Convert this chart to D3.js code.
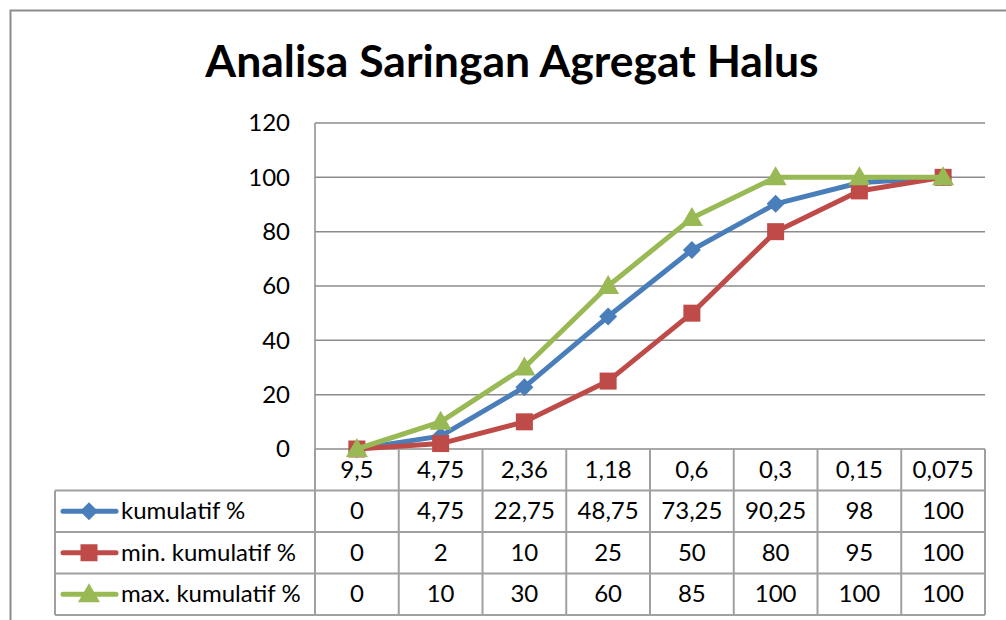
<!DOCTYPE html>
<html>
<head>
<meta charset="utf-8">
<script src="https://cdn.jsdelivr.net/npm/d3@7"></script>
<style>
  body { margin: 0; background: #fff; }
  text { font-family: Lato, "Open Sans", sans-serif; fill: #000; }
</style>
</head>
<body>
<div id="chart"></div>
<script>
// Data
var sizes = ["9,5", "4,75", "2,36", "1,18", "0,6", "0,3", "0,15", "0,075"];
var kumulatif = [0, 4.75, 22.75, 48.75, 73.25, 90.25, 98, 100];
var minKumulatif = [0, 2, 10, 25, 50, 80, 95, 100];
var maxKumulatif = [0, 10, 30, 60, 85, 100, 100, 100];
var seriesNames = ["kumulatif %", "min. kumulatif %", "max. kumulatif %"];
var yTicks = [0, 20, 40, 60, 80, 100, 120];

var svgWidth = 1006;
var svgHeight = 620;

// plot area
var plot = { left: 315, right: 985, top: 123, bottom: 449 };
var rowH = 41.5;
var legendLeft = 55;
var fontSize = "24px";

var colors = ["#4A7EBB", "#BE4B48", "#98B954"];
var gridColor = "#8c8c8c";
var tableColor = "#a0a0a0";

var series = [kumulatif, minKumulatif, maxKumulatif].map(function(vals, i) {
  return { name: seriesNames[i], color: colors[i], values: vals };
});

var svg = d3.select("#chart").append("svg")
  .attr("width", svgWidth)
  .attr("height", svgHeight);

// outer chart border
svg.append("rect")
  .attr("x", 10.5).attr("y", 10.5)
  .attr("width", svgWidth).attr("height", svgHeight)
  .attr("fill", "none")
  .attr("stroke", "#8c8c8c")
  .attr("stroke-width", 2);

// title
svg.append("text")
  .attr("x", 512).attr("y", 77)
  .attr("text-anchor", "middle")
  .style("font-size", "44.5px")
  .style("font-weight", "bold")
  .text("Analisa Saringan Agregat Halus");

var x = d3.scaleBand().domain(sizes).range([plot.left, plot.right]);
var y = d3.scaleLinear().domain([0, 120]).range([plot.bottom, plot.top]);

// gridlines
svg.append("g")
  .selectAll("line")
  .data(yTicks)
  .enter().append("line")
  .attr("x1", plot.left).attr("x2", plot.right)
  .attr("y1", d => y(d)).attr("y2", d => y(d))
  .attr("stroke", gridColor)
  .attr("stroke-width", 1.5);

// y axis labels
var yAxis = d3.axisLeft(y).tickValues(yTicks).tickSize(0).tickPadding(25);
var yg = svg.append("g")
  .attr("transform", `translate(${plot.left}, 0)`)
  .call(yAxis);
yg.select(".domain").remove();
yg.selectAll("text")
  .style("font-family", "Lato, 'Open Sans', sans-serif")
  .style("font-size", fontSize)
  .attr("fill", "#000");

// data table
var fmt = d3.formatLocale({ decimal: ",", thousands: ".", grouping: [3], currency: ["", ""] });
var num = function(v) { return fmt.format(",")(v); };

var tableBottom = plot.bottom + rowH * 4;
var table = svg.append("g");

// horizontal lines of table
[1, 2, 3, 4].forEach(function(r) {
  var yy = plot.bottom + r * rowH;
  table.append("line")
    .attr("x1", legendLeft).attr("x2", plot.right)
    .attr("y1", yy).attr("y2", yy)
    .attr("stroke", tableColor).attr("stroke-width", 2);
});

// vertical lines
var bounds = sizes.map(s => x(s)).concat([plot.right]);
table.selectAll(".vline")
  .data(bounds)
  .enter().append("line")
  .attr("class", "vline")
  .attr("x1", d => d).attr("x2", d => d)
  .attr("y1", plot.bottom).attr("y2", tableBottom)
  .attr("stroke", tableColor).attr("stroke-width", 2);
table.append("line")
  .attr("x1", legendLeft).attr("x2", legendLeft)
  .attr("y1", plot.bottom + rowH).attr("y2", tableBottom)
  .attr("stroke", tableColor).attr("stroke-width", 2);

// y axis line
svg.append("line")
  .attr("x1", plot.left).attr("x2", plot.left)
  .attr("y1", plot.top).attr("y2", plot.bottom)
  .attr("stroke", gridColor).attr("stroke-width", 1.5);

// category header
table.selectAll(".cat")
  .data(sizes)
  .enter().append("text")
  .attr("class", "cat")
  .attr("x", d => x(d) + x.bandwidth() / 2)
  .attr("y", plot.bottom + rowH / 2 + 8)
  .attr("text-anchor", "middle")
  .style("font-size", fontSize)
  .text(d => d);

function drawMarker(g, i, cx, cy, color) {
  if (i === 0) {
    g.append("path")
      .attr("d", `M${cx},${cy - 9}L${cx + 9},${cy}L${cx},${cy + 9}L${cx - 9},${cy}Z`)
      .attr("fill", color);
  } else if (i === 1) {
    g.append("rect")
      .attr("x", cx - 8.5).attr("y", cy - 8.5)
      .attr("width", 17).attr("height", 17)
      .attr("fill", color);
  } else {
    g.append("path")
      .attr("d", `M${cx},${cy - 11}L${cx + 11},${cy + 8}L${cx - 11},${cy + 8}Z`)
      .attr("fill", color);
  }
}

// value rows + legend keys
series.forEach(function(s, i) {
  var rowY = plot.bottom + (i + 1) * rowH + rowH / 2 + 8;
  table.selectAll(".val" + i)
    .data(s.values)
    .enter().append("text")
    .attr("class", "val" + i)
    .attr("x", (d, j) => x(sizes[j]) + x.bandwidth() / 2)
    .attr("y", rowY)
    .attr("text-anchor", "middle")
    .style("font-size", fontSize)
    .text(d => num(d));

  var keyY = plot.bottom + (i + 1) * rowH + rowH / 2;
  var key = table.append("g");
  key.append("line")
    .attr("x1", 63).attr("x2", 116)
    .attr("y1", keyY).attr("y2", keyY)
    .attr("stroke", s.color).attr("stroke-width", 5)
    .attr("stroke-linecap", "round");
  drawMarker(key, i, 89, keyY, s.color);
  key.append("text")
    .attr("x", 121).attr("y", keyY + 8)
    .style("font-size", fontSize)
    .text(s.name);
});

// lines and markers
var line = d3.line()
  .x((d, j) => x(sizes[j]) + x.bandwidth() / 2)
  .y(d => y(d));

series.forEach(function(s, i) {
  var g = svg.append("g");
  g.append("path")
    .datum(s.values)
    .attr("d", line)
    .attr("fill", "none")
    .attr("stroke", s.color)
    .attr("stroke-width", 5)
    .attr("stroke-linejoin", "round");
  s.values.forEach(function(v, j) {
    drawMarker(g, i, x(sizes[j]) + x.bandwidth() / 2, y(v), s.color);
  });
});
</script>
</body>
</html>
